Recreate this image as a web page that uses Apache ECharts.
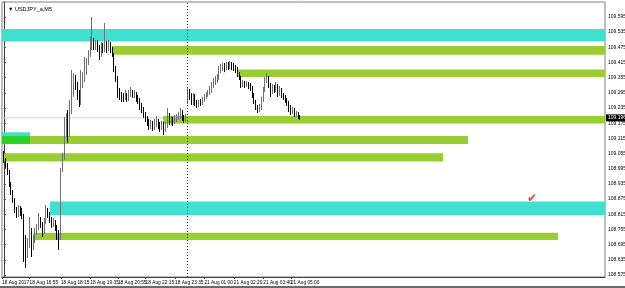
<!DOCTYPE html>
<html>
<head>
<meta charset="utf-8">
<script src="https://cdn.jsdelivr.net/npm/echarts@6/dist/echarts.min.js"></script>
<style>
  html, body { margin: 0; padding: 0; background: #fff; }
  #chart { width: 625px; height: 288px; }
</style>
</head>
<body>
<div id="chart"></div>
<script>
// USDJPY_a M5 bars: [open, close, low, high]
var candles = [
  [109.057, 109.030, 109.018, 109.065], [109.030, 109.010, 108.998, 109.037], [109.010, 108.982, 108.970, 109.018],
  [108.982, 108.931, 108.923, 108.990], [108.931, 108.903, 108.891, 108.943], [108.903, 108.871, 108.860, 108.911],
  [108.871, 108.832, 108.820, 108.879], [108.832, 108.812, 108.800, 108.844], [108.812, 108.832, 108.804, 108.852],
  [108.832, 108.824, 108.808, 108.848], [108.824, 108.808, 108.796, 108.840], [108.808, 108.694, 108.626, 108.816],
  [108.694, 108.654, 108.603, 108.733], [108.654, 108.694, 108.642, 108.721], [108.694, 108.753, 108.682, 108.804],
  [108.753, 108.694, 108.646, 108.761], [108.694, 108.713, 108.674, 108.733], [108.713, 108.745, 108.701, 108.761],
  [108.745, 108.761, 108.733, 108.777], [108.761, 108.792, 108.753, 108.820], [108.792, 108.773, 108.761, 108.804],
  [108.773, 108.745, 108.725, 108.784], [108.745, 108.784, 108.737, 108.800], [108.784, 108.824, 108.777, 108.852],
  [108.824, 108.812, 108.800, 108.840], [108.812, 108.792, 108.780, 108.824], [108.792, 108.773, 108.761, 108.804],
  [108.773, 108.784, 108.765, 108.800], [108.784, 108.761, 108.749, 108.792], [108.761, 108.733, 108.713, 108.773],
  [108.733, 108.721, 108.674, 108.753], [108.721, 108.990, 108.713, 108.998], [108.990, 109.037, 108.982, 109.057],
  [109.037, 109.148, 109.030, 109.200], [109.148, 109.168, 109.120, 109.215], [109.168, 109.128, 109.097, 109.227],
  [109.128, 109.219, 109.120, 109.267], [109.219, 109.306, 109.211, 109.385], [109.306, 109.346, 109.279, 109.373],
  [109.346, 109.326, 109.306, 109.366], [109.326, 109.287, 109.267, 109.338], [109.287, 109.255, 109.239, 109.306],
  [109.255, 109.326, 109.247, 109.385], [109.326, 109.354, 109.314, 109.377], [109.354, 109.385, 109.338, 109.437],
  [109.385, 109.417, 109.366, 109.433], [109.417, 109.445, 109.405, 109.464], [109.445, 109.484, 109.437, 109.516],
  [109.484, 109.496, 109.464, 109.595], [109.496, 109.480, 109.464, 109.512], [109.480, 109.488, 109.464, 109.504],
  [109.488, 109.472, 109.456, 109.504], [109.472, 109.445, 109.425, 109.484], [109.445, 109.480, 109.437, 109.496],
  [109.480, 109.464, 109.452, 109.492], [109.464, 109.488, 109.456, 109.571], [109.488, 109.472, 109.452, 109.500],
  [109.472, 109.484, 109.460, 109.504], [109.484, 109.464, 109.452, 109.496], [109.464, 109.445, 109.437, 109.476],
  [109.445, 109.393, 109.377, 109.452], [109.393, 109.354, 109.338, 109.401], [109.354, 109.306, 109.275, 109.362],
  [109.306, 109.287, 109.267, 109.314], [109.287, 109.279, 109.259, 109.298], [109.279, 109.275, 109.259, 109.294],
  [109.275, 109.283, 109.267, 109.306], [109.283, 109.271, 109.259, 109.294], [109.271, 109.287, 109.263, 109.306],
  [109.287, 109.298, 109.279, 109.318], [109.298, 109.287, 109.275, 109.306], [109.287, 109.290, 109.275, 109.306],
  [109.290, 109.279, 109.259, 109.298], [109.279, 109.267, 109.251, 109.287], [109.267, 109.247, 109.227, 109.275],
  [109.247, 109.227, 109.215, 109.255], [109.227, 109.207, 109.196, 109.239], [109.207, 109.196, 109.180, 109.219],
  [109.196, 109.180, 109.164, 109.203], [109.180, 109.160, 109.148, 109.192], [109.160, 109.172, 109.152, 109.188],
  [109.172, 109.156, 109.144, 109.184], [109.156, 109.168, 109.148, 109.192], [109.168, 109.180, 109.160, 109.203],
  [109.180, 109.164, 109.152, 109.192], [109.164, 109.156, 109.140, 109.180], [109.156, 109.168, 109.148, 109.184],
  [109.168, 109.148, 109.128, 109.180], [109.148, 109.164, 109.140, 109.180], [109.164, 109.207, 109.156, 109.235],
  [109.207, 109.180, 109.168, 109.215], [109.180, 109.188, 109.168, 109.203], [109.188, 109.176, 109.164, 109.200],
  [109.176, 109.192, 109.172, 109.207], [109.192, 109.196, 109.180, 109.211], [109.196, 109.203, 109.188, 109.219],
  [109.203, 109.219, 109.192, 109.235], [109.219, 109.196, 109.184, 109.227], [109.196, 109.188, 109.176, 109.207],
  [109.188, 109.196, 109.180, 109.211],
  [109.255, 109.306, 109.251, 109.314], [109.306, 109.287, 109.267, 109.310], [109.287, 109.255, 109.247, 109.294],
  [109.255, 109.283, 109.247, 109.294], [109.283, 109.251, 109.243, 109.290], [109.251, 109.243, 109.235, 109.267],
  [109.243, 109.255, 109.239, 109.267], [109.255, 109.251, 109.243, 109.271], [109.251, 109.267, 109.247, 109.279],
  [109.267, 109.279, 109.259, 109.290], [109.279, 109.287, 109.271, 109.298], [109.287, 109.294, 109.279, 109.306],
  [109.294, 109.306, 109.287, 109.322], [109.306, 109.326, 109.294, 109.338], [109.326, 109.338, 109.314, 109.354],
  [109.338, 109.346, 109.326, 109.362], [109.346, 109.354, 109.334, 109.369], [109.354, 109.385, 109.346, 109.401],
  [109.385, 109.393, 109.373, 109.409], [109.393, 109.401, 109.381, 109.413], [109.401, 109.393, 109.377, 109.413],
  [109.393, 109.405, 109.385, 109.417], [109.405, 109.401, 109.385, 109.417], [109.401, 109.409, 109.389, 109.421],
  [109.409, 109.401, 109.385, 109.417], [109.401, 109.393, 109.381, 109.413], [109.393, 109.385, 109.373, 109.405],
  [109.385, 109.369, 109.358, 109.397], [109.369, 109.354, 109.346, 109.377], [109.354, 109.326, 109.314, 109.362],
  [109.326, 109.330, 109.318, 109.346], [109.330, 109.326, 109.314, 109.342], [109.326, 109.330, 109.318, 109.342],
  [109.330, 109.322, 109.310, 109.338], [109.322, 109.314, 109.302, 109.334], [109.314, 109.287, 109.275, 109.322],
  [109.287, 109.259, 109.251, 109.294], [109.259, 109.235, 109.227, 109.267], [109.235, 109.223, 109.215, 109.247],
  [109.223, 109.235, 109.219, 109.251], [109.235, 109.267, 109.227, 109.279], [109.267, 109.306, 109.259, 109.318],
  [109.306, 109.346, 109.298, 109.358], [109.346, 109.354, 109.334, 109.373], [109.354, 109.326, 109.314, 109.362],
  [109.326, 109.298, 109.279, 109.334], [109.298, 109.314, 109.290, 109.330], [109.314, 109.306, 109.294, 109.326],
  [109.306, 109.322, 109.298, 109.338], [109.322, 109.290, 109.279, 109.330], [109.290, 109.306, 109.283, 109.322],
  [109.306, 109.283, 109.275, 109.314], [109.283, 109.275, 109.267, 109.294], [109.275, 109.267, 109.255, 109.287],
  [109.267, 109.251, 109.243, 109.275], [109.251, 109.235, 109.219, 109.263], [109.235, 109.219, 109.207, 109.247],
  [109.219, 109.227, 109.211, 109.239], [109.227, 109.207, 109.200, 109.235], [109.207, 109.211, 109.200, 109.223],
  [109.211, 109.200, 109.192, 109.219], [109.200, 109.196, 109.188, 109.207]
];

// time axis labels and the bar they sit on
var timeLabelBars = [-1, 14, 31, 47, 62, 77, 93, 109, 125, 141, 156];
var timeLabels = ['18 Aug 2017', '18 Aug 16:55', '18 Aug 18:15', '18 Aug 19:35', '18 Aug 20:55', '18 Aug 22:15',
  '18 Aug 23:35', '21 Aug 01:00', '21 Aug 02:20', '21 Aug 03:40', '21 Aug 05:00'];

var priceTicks = [108.575, 108.635, 108.695, 108.755, 108.815, 108.875, 108.935, 108.995, 109.055,
  109.115, 109.175, 109.235, 109.295, 109.355, 109.415, 109.475, 109.535, 109.595];

var bidPrice = 109.196;
var daySeparatorBar = 99.6;

// rectangle objects: bar range and price range
var zoneFrom   = [-1,      58.8,    127.3,   86.5,    -1,      -1,      -1,      -0.4,    25.1,    15.9];
var zoneTo     = [326.7,   326.7,   326.7,   326.7,   14.2,    252.3,   14.2,    238.7,   326.7,   301.2];
var zoneTop    = [109.547, 109.480, 109.387, 109.203, 109.139, 109.124, 109.124, 109.056, 108.865, 108.742];
var zoneBottom = [109.498, 109.445, 109.358, 109.174, 109.093, 109.093, 109.093, 109.024, 108.812, 108.713];
var zoneKind   = ['cyan',  'green', 'green', 'green', 'cyan',  'green', 'lime',  'green', 'cyan',  'green'];

var checkBar = 287;
var checkPrice = 108.875;

var xMin = -1, xMax = 326.7;
var yMin = 108.567, yMax = 109.654;

var kindColor = { cyan: '#40E0D0', green: '#9ACD32', lime: '#2bd12b' };
var font = '"Liberation Sans", Arial, sans-serif';

var chart = echarts.init(document.getElementById('chart'), null, { renderer: 'canvas' });

var candleData = candles.map(function (c, i) { return [i, c[0], c[1], c[2], c[3]]; });

var zoneAreas = zoneFrom.map(function (f, i) {
  return [
    { xAxis: f, yAxis: zoneTop[i], itemStyle: { color: kindColor[zoneKind[i]] } },
    { xAxis: zoneTo[i], yAxis: zoneBottom[i] }
  ];
});

// a blank label at the far right keeps the last time label from being dropped as "overlapping"
var timeLabelValues = timeLabelBars.concat([xMax]);

var option = {
  animation: false,
  backgroundColor: '#fff',
  title: {
    text: '\u25BC USDJPY_a,M5',
    left: 3, top: 1,
    textStyle: { fontSize: 5.5, fontWeight: 'normal', color: '#000', fontFamily: font }
  },
  grid: {
    left: 2, right: 20, top: 2, bottom: 11,
    outerBoundsMode: 'none', containLabel: false,
    show: true, borderColor: '#808080', borderWidth: 1
  },
  xAxis: {
    type: 'value', min: xMin, max: xMax,
    splitLine: { show: false },
    axisLine: { lineStyle: { color: '#404040' } },
    axisTick: { show: true, length: 2, customValues: timeLabelBars, lineStyle: { color: '#404040' } },
    axisLabel: {
      customValues: timeLabelValues,
      interval: 0,
      formatter: function (v) {
        var k = timeLabelBars.indexOf(v);
        return k < 0 ? '' : timeLabels[k];
      },
      hideOverlap: false, showMinLabel: true,
      align: 'left', margin: 3, fontSize: 4.8, color: '#000', fontFamily: font
    }
  },
  yAxis: [{
    type: 'value', position: 'right', min: yMin, max: yMax,
    splitLine: { show: false },
    axisLine: { show: true, lineStyle: { color: '#404040' } },
    axisTick: { show: true, length: 2, customValues: priceTicks, lineStyle: { color: '#404040' } },
    axisLabel: {
      customValues: priceTicks,
      interval: 0,
      formatter: function (v) { return v.toFixed(3); },
      hideOverlap: false,
      margin: 3, fontSize: 5, color: '#000', fontFamily: font
    }
  }, {
    type: 'value', position: 'right', min: yMin, max: yMax,
    splitLine: { show: false },
    axisLine: { show: false }, axisTick: { show: false },
    axisLabel: {
      customValues: [bidPrice],
      formatter: function (v) { return v.toFixed(3); },
      hideOverlap: false,
      margin: 1, fontSize: 5, color: '#fff', backgroundColor: '#000', padding: [1, 2, 1, 2], fontFamily: font
    }
  }],
  series: [{
    type: 'line', z: 0, symbol: 'none', silent: true,
    data: [[xMin, bidPrice], [xMax, bidPrice]],
    lineStyle: { color: '#d4d4d4', width: 1 }
  }, {
    type: 'candlestick', z: 3,
    barWidth: 1,
    data: candleData,
    encode: { x: 0, y: [1, 2, 3, 4] },
    itemStyle: { color: '#b8b8b8', color0: '#000', borderColor: '#707070', borderColor0: '#000', borderWidth: 1 },
    markArea: { silent: true, z: 1, data: zoneAreas },
    markLine: {
      silent: true, symbol: ['none', 'none'],
      label: { show: false },
      lineStyle: { color: '#333', type: [1, 2], width: 1 },
      data: [{ xAxis: daySeparatorBar }]
    }
  }, {
    type: 'scatter', z: 6, symbolSize: 1,
    itemStyle: { color: 'rgba(0,0,0,0)' },
    data: [[checkBar, checkPrice]],
    label: { show: true, position: 'inside', formatter: '\u2714', color: '#e0101a', fontSize: 12 }
  }],
  graphic: [{
    type: 'rect', shape: { x: 0, y: 286, width: 625, height: 2 }, style: { fill: '#6a6a6a' }
  }]
};

chart.setOption(option);
</script>
</body>
</html>
